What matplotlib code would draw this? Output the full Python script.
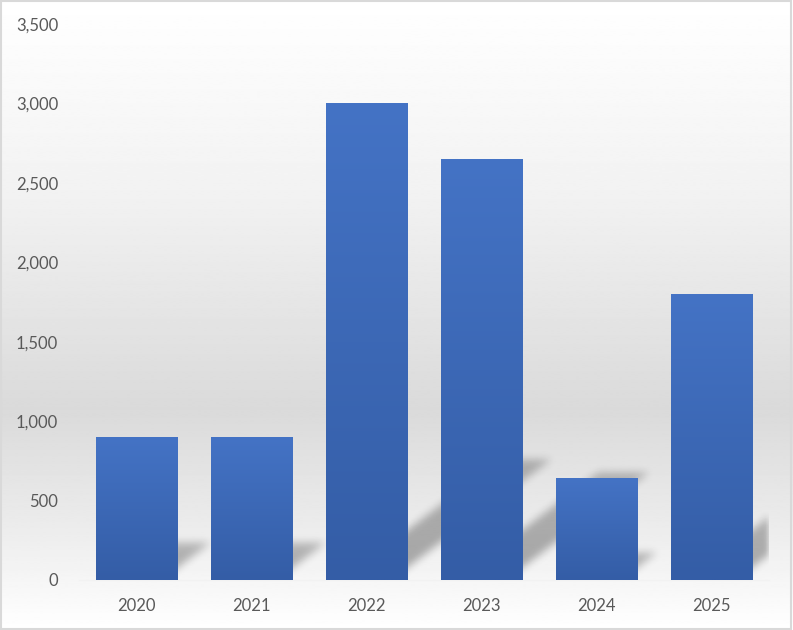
import matplotlib.pyplot as plt
import numpy as np
from matplotlib.colors import LinearSegmentedColormap

# Datos
years = ['2020', '2021', '2022', '2023', '2024', '2025']
values = [900, 900, 3000, 2650, 640, 1800]

plt.rcParams['font.family'] = ['Lato', 'DejaVu Sans']

fig = plt.figure(figsize=(7.93, 6.30), dpi=100)

# Fondo con degradado (blanco - gris - blanco)
bg = fig.add_axes([0, 0, 1, 1], zorder=0)
stops = [(0.0, 1.0), (0.3, 0.95), (0.65, 0.855), (0.85, 0.93), (1.0, 1.0)]
yy = np.linspace(0, 1, 400)
level = np.interp(yy, [s[0] for s in stops], [s[1] for s in stops])
bg.imshow(level[:, None], aspect='auto', cmap='gray', vmin=0, vmax=1,
          extent=[0, 1, 1, 0], interpolation='bilinear')
bg.set_xlim(0, 1)
bg.set_ylim(1, 0)
bg.axis('off')

ax = fig.add_axes([79/793, 50/630, 690/793, 556/630], zorder=1)
ax.patch.set_alpha(0)

x = np.arange(len(years))
width = 0.705
bars = ax.bar(x, values, width=width, color='none', zorder=3)

# Sombras en perspectiva (inclinadas a la derecha, difuminadas)
nx, ny = 690, 556
gx = np.linspace(-0.5, len(years) - 0.5, nx)
gy = np.linspace(0, 3500, ny)
GX, GY = np.meshgrid(gx, gy)
shadow = np.zeros_like(GX)
px_x = nx / len(years)
px_y = ny / 3500
slope = 0.75         # subida (px) por cada px hacia la derecha
sh_w = 0.62 * width  # ancho de la sombra
for xi, v in zip(x, values):
    top = 0.25 * v
    run = GY * px_y / slope / px_x
    x0 = xi - sh_w / 2 + run
    x1 = xi + sh_w / 2 + run
    t = GY / top
    m = (GY <= top) & (GX >= x0) & (GX <= x1)
    shadow = np.maximum(shadow, m * (1 - 0.25 * np.clip(t, 0, 1)))

def box_blur(a, k):
    ker = np.ones(k) / k
    a = np.apply_along_axis(lambda r: np.convolve(r, ker, mode='same'), 1, a)
    a = np.apply_along_axis(lambda c: np.convolve(c, ker, mode='same'), 0, a)
    return a

for _ in range(3):
    shadow = box_blur(shadow, 8)

rgba = np.zeros(shadow.shape + (4,))
rgba[..., 3] = np.clip(shadow * 0.32, 0, 1)
ax.imshow(rgba, origin='lower', aspect='auto',
          extent=[-0.5, len(years) - 0.5, 0, 3500], zorder=2,
          interpolation='bilinear')

# Barras con degradado vertical
bar_cmap = LinearSegmentedColormap.from_list('azul', ['#345da6', '#4473c5'])
grad = np.linspace(0, 1, 256)[:, None]
for b in bars:
    bx, by = b.get_x(), b.get_y()
    im = ax.imshow(grad, origin='lower', aspect='auto', cmap=bar_cmap,
                   extent=[bx, bx + b.get_width(), by, by + b.get_height()],
                   zorder=3)
    im.set_clip_path(b)

ax.set_xlim(-0.5, len(years) - 0.5)
ax.set_ylim(0, 3500)

ax.set_xticks(x)
ax.set_xticklabels(years)
ax.set_yticks(np.arange(0, 3501, 500))
ax.set_yticklabels([f'{v:,}' for v in range(0, 3501, 500)])
ax.tick_params(axis='both', length=0, labelsize=12, colors='#595959')
ax.tick_params(axis='y', pad=15)
ax.tick_params(axis='x', pad=13)
for s in ['top', 'right', 'left']:
    ax.spines[s].set_visible(False)
ax.spines['bottom'].set_color('#f2f2f2')
ax.spines['bottom'].set_linewidth(1.0)

# Borde del gráfico
fig.patches.append(plt.Rectangle((0.001, 0.002), 0.997, 0.996, transform=fig.transFigure,
                                 fill=False, edgecolor='#d9d9d9', linewidth=1.5))

fig.savefig('out.png', dpi=100)
